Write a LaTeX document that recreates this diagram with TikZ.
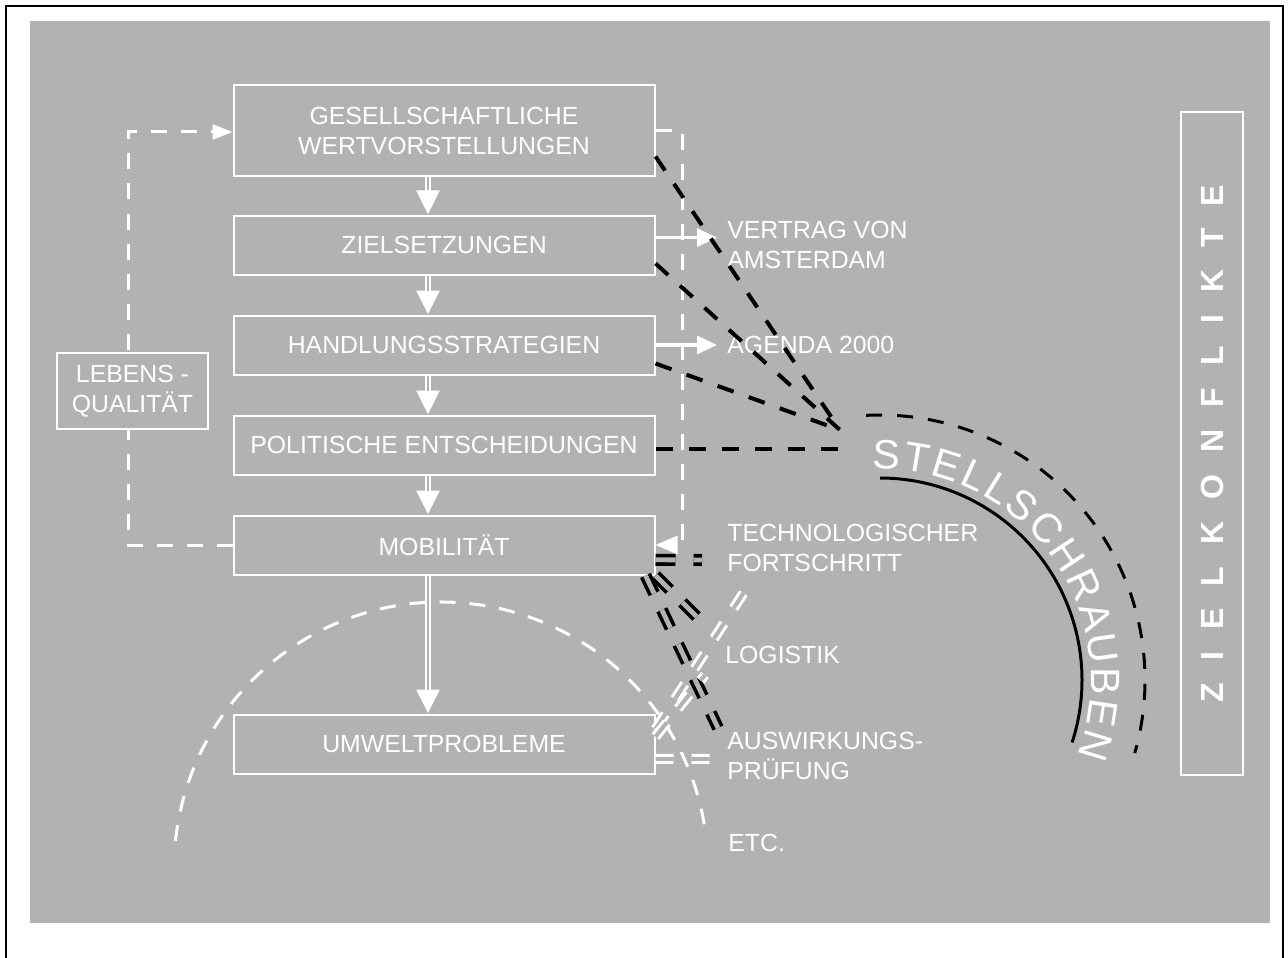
\documentclass[tikz,border=0pt]{standalone}
\usepackage{fontspec}
\setmainfont{Liberation Sans}
\usetikzlibrary{arrows.meta,decorations.text}
\definecolor{grau}{RGB}{178,178,178}

\begin{document}
\begin{tikzpicture}[x=0.5pt, y=-0.5pt,
	kasten/.style={draw=white, line width=1pt, fill=grau, text=white, align=center, inner sep=0pt, minimum width=210.5pt, minimum height=29.5pt, font=\fontsize{12.4}{15}\selectfont},
	etikett/.style={anchor=west, text=white, align=left, inner sep=0pt, font=\fontsize{12.4}{15}\selectfont},
	pfeil/.style={white, line width=2.6pt, -{Triangle[width=11pt,length=12pt]}, postaction={draw=grau, line width=1.1pt, -, shorten >=12pt}},
	wpfeil/.style={white, line width=1.6pt, -{Triangle[width=9pt,length=10pt]}},
	wstrich/.style={white, line width=1.5pt, dash pattern=on 8pt off 7pt},
	sstrich/.style={black, line width=2pt, dash pattern=on 8.5pt off 8pt},
	sdoppel/.style={draw=black, double=grau, line width=1.8pt, double distance=2.4pt, dash pattern=on 10pt off 9pt},
	wdoppel/.style={draw=white, double=grau, line width=1.5pt, double distance=2pt, dash pattern=on 9pt off 9pt}]

\useasboundingbox[fill=white] (0,0) rectangle (1288,957);
\draw[line width=1pt] (6,6) rectangle (1283,975);
\fill[grau] (30,21) rectangle (1270,923);

% halbkreis unten
\coordinate (u) at (441,869);
\draw[wstrich] (u) ++(-174:267) arc[start angle=-174, end angle=-7, radius=267];

\node[kasten, minimum height=45.5pt] (0) at (444,130.5) {GESELLSCHAFTLICHE\\WERTVORSTELLUNGEN};
\node[kasten] (1) at (444,245) {ZIELSETZUNGEN};
\node[kasten] (2) at (444,345) {HANDLUNGSSTRATEGIEN};
\node[kasten] (3) at (444,445) {POLITISCHE ENTSCHEIDUNGEN};
\node[kasten] (4) at (444,545) {MOBILITÄT};
\node[kasten] (5) at (444,744) {UMWELTPROBLEME};

% rueckkopplung
\coordinate (l) at (128,132);
\coordinate (r) at (682,545);
\draw[wstrich, -{Triangle[width=7.5pt,length=10pt]}] (4.west) -| (l) -- (l -| 0.west);
\draw[wstrich, -{Triangle[width=9pt,length=11pt]}] (0.east) -| (r) -- (4.east);
\node[kasten, minimum width=75.5pt, minimum height=38pt] (6) at (132.5,391) {LEBENS -\\QUALITÄT};

\draw[pfeil] ([xshift=-8pt]0.south) -- ([xshift=-8pt]1.north);
\draw[pfeil] ([xshift=-8pt]1.south) -- ([xshift=-8pt]2.north);
\draw[pfeil] ([xshift=-8pt]2.south) -- ([xshift=-8pt]3.north);
\draw[pfeil] ([xshift=-8pt]3.south) -- ([xshift=-8pt]4.north);
\draw[pfeil, line width=3.2pt, postaction={line width=1.5pt}] ([xshift=-8pt]4.south) -- ([xshift=-8pt]5.north);

\node[etikett] (7) at (727,245) {VERTRAG VON\\AMSTERDAM};
\node[etikett] (8) at (727,345) {AGENDA 2000};
\node[etikett] (9) at (727,548) {TECHNOLOGISCHER\\FORTSCHRITT};
\node[etikett] (10) at (725,655) {LOGISTIK};
\node[etikett] (11) at (727,756) {AUSWIRKUNGS-\\PRÜFUNG};
\node[etikett] (12) at (728,843) {ETC.};

\draw[wpfeil, shorten >=5pt] (1.2) -- (1.2 -| 7.west);
\draw[wpfeil, shorten >=5pt] (2.east) -- (8.west);

% stellschrauben
\coordinate (s) at (840,430);
\draw[sstrich] (0.-7) -- (s);
\draw[sstrich] (1.-5) -- (s);
\draw[sstrich] (2.-5) -- (s);
\draw[sstrich] (3.-1) -- (3.-1 -| s);

\coordinate (t1) at (702,560);
\coordinate (l1) at (708,628);
\coordinate (a1) at (718,728);
\coordinate (t2) at (748,586);
\coordinate (l2) at (705,675);
\coordinate (a2) at (710,759);
\draw[sdoppel] (4.-4) -- (t1);
\draw[sdoppel] (4.south east) -- (l1);
\draw[sdoppel] ([xshift=-5pt]4.south east) -- (a1);
\draw[wdoppel] (5.4) -- (t2);
\draw[wdoppel] (5.2) -- (l2);
\draw[wdoppel] (5.-4) -- (a2);

\coordinate (k) at (880,680);
\draw[line width=1.5pt] (k) ++(-90:202) arc[start angle=-90, end angle=18, radius=202];
\draw[line width=1.5pt, dash pattern=on 8pt off 7.5pt] (k) ++(-93:265) arc[start angle=-93, end angle=16, radius=265];
\path[decorate, decoration={text along path, text={|\fontsize{20.5}{20.5}\selectfont|STELLSCHRAUBEN}, text color=white, text align={fit to path}}] (k) ++(-92:211) arc[start angle=-92, end angle=21, radius=211];

\node[kasten, rotate=90, minimum width=331.5pt, minimum height=31pt, font=\bfseries\fontsize{16}{16}\selectfont\addfontfeature{LetterSpace=69}] (13) at (1212,443.5) {ZIELKONFLIKTE};
\end{tikzpicture}
\end{document}
